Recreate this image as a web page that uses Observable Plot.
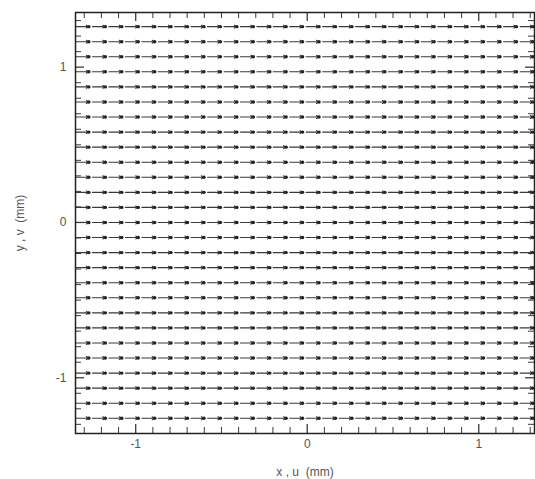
<!DOCTYPE html>
<html><head><meta charset="utf-8">
<script src="https://cdn.jsdelivr.net/npm/d3@7"></script>
<script src="https://cdn.jsdelivr.net/npm/@observablehq/plot@0.6"></script>
<style>body{margin:0;background:#fff}</style>
</head><body><div id="chart"></div>
<script>
// grid positions of the vectors (mm)
const xGrid = [-1.348, -1.252, -1.156, -1.060, -0.964, -0.869, -0.773, -0.677, -0.581, -0.485,
               -0.389, -0.293, -0.198, -0.102, -0.006, 0.090, 0.186, 0.282, 0.378, 0.474,
               0.569, 0.665, 0.761, 0.857, 0.953, 1.049, 1.145, 1.241];
const yGrid = [1.261, 1.164, 1.067, 0.970, 0.873, 0.776, 0.679, 0.582, 0.485, 0.388,
               0.291, 0.194, 0.097, 0, -0.097, -0.194, -0.291, -0.388, -0.485, -0.582,
               -0.679, -0.776, -0.873, -0.970, -1.067, -1.164, -1.261];
// displacement components per row (mm)
const uRow = [0.075, 0.075, 0.075, 0.075, 0.075, 0.075, 0.075, 0.075, 0.075, 0.075,
              0.075, 0.075, 0.075, 0.075, 0.075, 0.075, 0.075, 0.075, 0.075, 0.075,
              0.075, 0.075, 0.075, 0.075, 0.075, 0.075, 0.075];
const vRow = [0, 0, 0, 0, 0, 0, 0, 0, 0, 0, 0, 0, 0, 0, 0, 0, 0, 0, 0, 0, 0, 0, 0, 0, 0, 0, 0];
// tick values
const minorTicks = [-1.3, -1.2, -1.1, -0.9, -0.8, -0.7, -0.6, -0.5, -0.4, -0.3, -0.2, -0.1,
                    0.1, 0.2, 0.3, 0.4, 0.5, 0.6, 0.7, 0.8, 0.9, 1.1, 1.2, 1.3];
const majorTicks = [-1, 0, 1];
const xTitle = "x , u  (mm)";
const yTitle = "y , v  (mm)";

const field = yGrid.flatMap((y, i) => xGrid.map(x => ({x, y, u: uRow[i], v: vRow[i]})));

const W = 535, H = 479, mT = 12, mB = 46, mL = 75, mR = 1;
const plotH = H - mT - mB, plotW = W - mL - mR;
const ink = "#3a3a3a";

const chart = Plot.plot({
  width: W, height: H,
  marginTop: mT, marginBottom: mB, marginLeft: mL, marginRight: mR,
  x: {domain: [-1.351, 1.325]},
  y: {domain: [-1.359, 1.352]},
  style: {fontFamily: "Liberation Sans, Arial, sans-serif", fontSize: "12px", color: "#555", background: "#fff"},
  marks: [
    Plot.arrow(field, {x1: "x", y1: "y", x2: d => d.x + d.u, y2: d => d.y + d.v,
      stroke: ink, strokeWidth: 1.1, headLength: 4, headAngle: 60}),
    Plot.dot(field, {x: d => d.x + d.u, y: d => d.y + d.v, r: 1.7, fill: "#222"}),
    // inward ticks
    Plot.tickX(minorTicks, {x: d => d, insetTop: plotH - 6, stroke: ink}),
    Plot.tickX(minorTicks, {x: d => d, insetBottom: plotH - 6, stroke: ink}),
    Plot.tickX(majorTicks, {x: d => d, insetTop: plotH - 9, stroke: ink, strokeWidth: 1.3}),
    Plot.tickX(majorTicks, {x: d => d, insetBottom: plotH - 9, stroke: ink, strokeWidth: 1.3}),
    Plot.tickY(minorTicks, {y: d => d, insetRight: plotW - 6, stroke: ink}),
    Plot.tickY(minorTicks, {y: d => d, insetLeft: plotW - 6, stroke: ink}),
    Plot.tickY(majorTicks, {y: d => d, insetRight: plotW - 9, stroke: ink, strokeWidth: 1.3}),
    Plot.tickY(majorTicks, {y: d => d, insetLeft: plotW - 9, stroke: ink, strokeWidth: 1.3}),
    Plot.frame({stroke: "#222", strokeWidth: 1.5}),
    Plot.axisX({ticks: majorTicks, tickSize: 0, tickPadding: 6, tickFormat: d => d,
      label: xTitle, labelArrow: "none", labelAnchor: "center", labelOffset: 42}),
    Plot.axisY({ticks: majorTicks, tickSize: 0, tickPadding: 9, tickFormat: d => d,
      label: yTitle, labelArrow: "none", labelAnchor: "center", labelOffset: 60})
  ]
});
document.getElementById("chart").append(chart);
</script>
</body></html>
